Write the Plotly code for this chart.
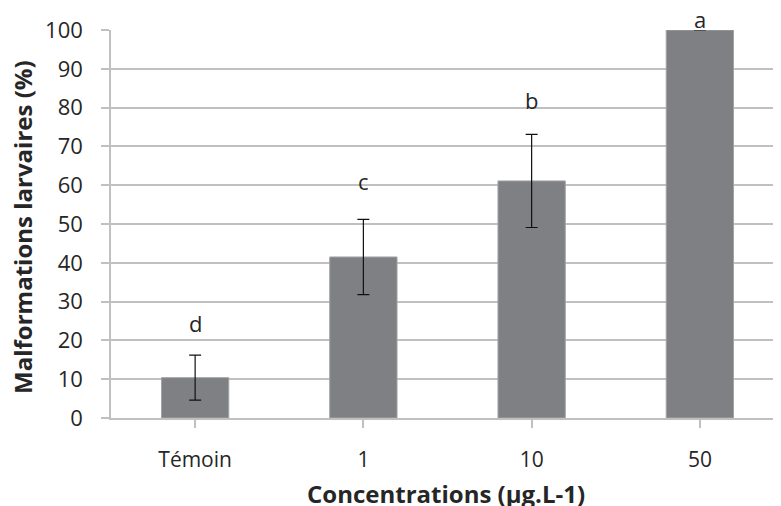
import plotly.graph_objects as go

categories = ["Témoin", "1", "10", "50"]
values = [10.4, 41.5, 61.1, 100.0]
errors = [5.8, 9.7, 12.0, 0.0]
letters = ["d", "c", "b", "a"]
letter_y = [24.5, 61.0, 82.0, 100.0]
letter_shift = [0, 0, 0, 11]
y_ticks = [0, 10, 20, 30, 40, 50, 60, 70, 80, 90, 100]
x_title = "Concentrations (µg.L-1)"
y_title = "Malformations larvaires (%)"

font_family = "Open Sans, Lato, sans-serif"
text_color = "#262626"
grid_color = "#c0c0c0"

fig = go.Figure()
fig.add_trace(go.Bar(
    x=list(range(len(categories))),
    y=values,
    marker=dict(color="#7f8084", line=dict(color="#a3a3a6", width=1)),
    error_y=dict(type="data", array=errors, visible=True, color="#111111",
                 thickness=1.2, width=6),
    width=0.4,
))

for i, (lab, ly, sh) in enumerate(zip(letters, letter_y, letter_shift)):
    fig.add_annotation(x=i, y=ly, xref="x", yref="y", yshift=sh, text=lab, showarrow=False,
                       font=dict(family=font_family, size=22, color=text_color))

fig.add_annotation(xref="paper", yref="paper", x=0.4985, y=0, yshift=-75,
                   xanchor="center", yanchor="middle", showarrow=False,
                   text="<b>" + x_title + "</b>",
                   font=dict(family=font_family, size=24, color=text_color))
fig.add_annotation(xref="paper", yref="paper", x=0, xshift=-88, y=0.49,
                   xanchor="center", yanchor="middle", showarrow=False, textangle=-90,
                   text="<b>" + y_title + "</b>",
                   font=dict(family=font_family, size=24, color=text_color))

fig.update_layout(
    width=781, height=506,
    margin=dict(l=103, r=5, t=22, b=96),
    plot_bgcolor="white", paper_bgcolor="white",
    showlegend=False,
    font=dict(family=font_family, size=21, color=text_color),
    xaxis=dict(
        range=[-0.5, 3.5], automargin=False,
        tickmode="array", tickvals=list(range(len(categories))), ticktext=categories,
        showline=True, linecolor=grid_color, linewidth=1.5,
        ticks="outside", tickson="boundaries", ticklen=8, tickcolor=grid_color,
        tickwidth=1.5, ticklabelstandoff=14,
        tickfont=dict(size=21, color=text_color),
        showgrid=False, zeroline=False,
    ),
    yaxis=dict(
        range=[0, 100], tickvals=y_ticks, automargin=False,
        showgrid=True, gridcolor=grid_color, gridwidth=1.5,
        showline=True, linecolor=grid_color, linewidth=1.5,
        ticks="outside", ticklen=8, tickcolor=grid_color, tickwidth=1.5,
        ticklabelstandoff=14,
        tickfont=dict(size=22, color=text_color),
        zeroline=False,
    ),
)

fig.write_html("out.html")
